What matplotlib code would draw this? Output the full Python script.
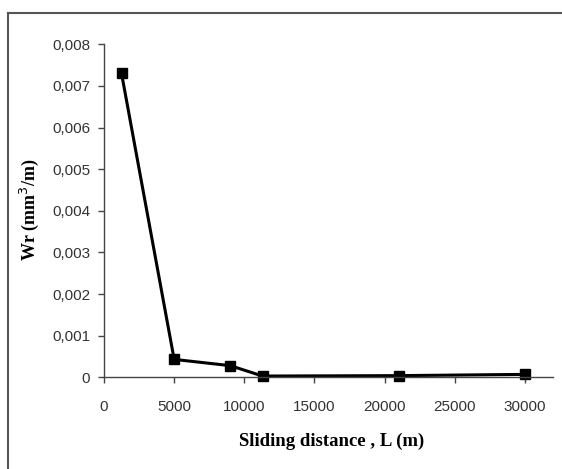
import matplotlib
matplotlib.use("Agg")
import matplotlib.pyplot as plt
from matplotlib.lines import Line2D

distance = [1250, 5000, 9000, 11300, 21000, 30000]
wear_rate = [0.0073, 0.00043, 0.00028, 0.00003, 0.00004, 0.00007]
x_ticks = [0, 5000, 10000, 15000, 20000, 25000, 30000]
y_ticks = [0, 0.001, 0.002, 0.003, 0.004, 0.005, 0.006, 0.007, 0.008]
y_tick_labels = ["0", "0,001", "0,002", "0,003", "0,004", "0,005", "0,006", "0,007", "0,008"]

fig = plt.figure(figsize=(5.62, 4.69), dpi=100)
ax = fig.add_axes([104/562, 1 - 377.3/469, 449/562, 333/469])

ax.plot(distance, wear_rate, color="black", linewidth=2.2, marker="s",
        markersize=7, markerfacecolor="black", markeredgecolor="black",
        clip_on=False)

ax.set_xlim(0, 32000)
ax.set_ylim(0, 0.008)
ax.set_xticks(x_ticks)
ax.set_xticklabels([str(t) for t in x_ticks])
ax.set_yticks(y_ticks)
ax.set_yticklabels(y_tick_labels)

for s in ["top", "right"]:
    ax.spines[s].set_visible(False)
for s in ["left", "bottom"]:
    ax.spines[s].set_color("#444444")
    ax.spines[s].set_linewidth(1.0)
ax.tick_params(axis="both", direction="out", length=4, width=1, color="#444444",
               labelsize=11, labelcolor="#333333")
for lab in ax.get_xticklabels() + ax.get_yticklabels():
    lab.set_family("Liberation Sans")
ax.tick_params(axis="x", pad=12)
ax.tick_params(axis="y", pad=6)

ax.set_xlabel("Sliding distance , L (m)", family="Liberation Serif",
              fontweight="bold", fontsize=13.5)
ax.xaxis.set_label_coords(0.508, -0.193)
ax.xaxis.label.set_va("center")
ax.set_ylabel("Wr (mm$^3$/m)", family="Liberation Serif",
              fontweight="bold", fontsize=13)
ax.yaxis.set_label_coords(-0.167, 0.502)
ax.yaxis.label.set_va("center")

# outer frame (top and left edges visible)
fig.add_artist(Line2D([8/562, 1.0], [1 - 13/469, 1 - 13/469], transform=fig.transFigure,
                      color="#555555", linewidth=1.5))
fig.add_artist(Line2D([8/562, 8/562], [0.0, 1 - 13/469], transform=fig.transFigure,
                      color="#555555", linewidth=1.5))

fig.savefig("out.png", dpi=100)
